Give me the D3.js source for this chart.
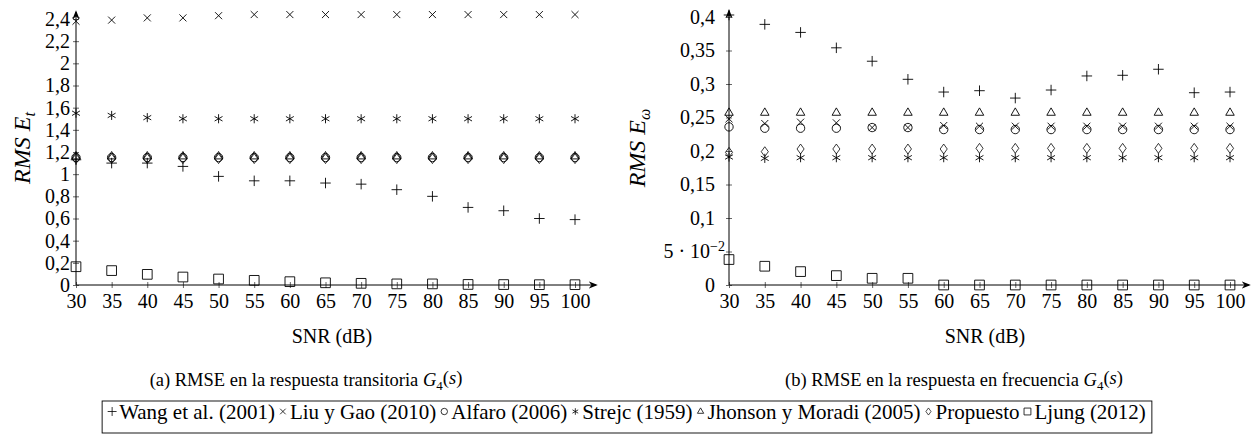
<!DOCTYPE html>
<html>
<head>
<meta charset="utf-8">
<script src="https://cdn.jsdelivr.net/npm/d3@7"></script>
<style>
  body { margin: 0; background: #fff; }
</style>
</head>
<body>
<svg id="chart" width="1255" height="447"></svg>
<script>
// SNR values (x axis)
const snr = [30, 35, 40, 45, 50, 55, 60, 65, 70, 75, 80, 85, 90, 95, 100];

// (a) RMSE in transient response
const transWang     = [1.13, 1.10, 1.10, 1.07, 0.98, 0.94, 0.94, 0.92, 0.91, 0.86, 0.80, 0.70, 0.67, 0.60, 0.59];
const transLiu      = [2.38, 2.39, 2.41, 2.41, 2.43, 2.44, 2.44, 2.44, 2.44, 2.44, 2.44, 2.44, 2.44, 2.44, 2.44];
const transAlfaro   = [1.15, 1.15, 1.15, 1.15, 1.15, 1.15, 1.15, 1.15, 1.15, 1.15, 1.15, 1.15, 1.15, 1.15, 1.15];
const transStrejc   = [1.55, 1.53, 1.51, 1.50, 1.50, 1.50, 1.50, 1.50, 1.50, 1.50, 1.50, 1.50, 1.50, 1.50, 1.50];
const transJhonson  = [1.16, 1.16, 1.16, 1.16, 1.16, 1.16, 1.16, 1.16, 1.16, 1.16, 1.16, 1.16, 1.16, 1.16, 1.16];
const transProp     = [1.14, 1.14, 1.14, 1.14, 1.14, 1.14, 1.14, 1.14, 1.14, 1.14, 1.14, 1.14, 1.14, 1.14, 1.14];
const transLjung    = [0.165, 0.13, 0.096, 0.072, 0.054, 0.042, 0.03, 0.02, 0.015, 0.01, 0.01, 0.005, 0.004, 0.003, 0.003];

// (b) RMSE in frequency response
const freqWang      = [0.403, 0.389, 0.377, 0.354, 0.334, 0.307, 0.288, 0.290, 0.279, 0.291, 0.312, 0.313, 0.322, 0.287, 0.288];
const freqLiu       = [0.248, 0.241, 0.243, 0.242, 0.235, 0.235, 0.238, 0.237, 0.237, 0.237, 0.237, 0.237, 0.237, 0.237, 0.237];
const freqAlfaro    = [0.236, 0.234, 0.234, 0.234, 0.235, 0.235, 0.232, 0.232, 0.232, 0.232, 0.232, 0.232, 0.232, 0.232, 0.232];
const freqStrejc    = [0.191, 0.189, 0.190, 0.190, 0.190, 0.190, 0.190, 0.190, 0.190, 0.190, 0.190, 0.190, 0.190, 0.190, 0.190];
const freqJhonson   = [0.257, 0.257, 0.257, 0.257, 0.257, 0.257, 0.257, 0.257, 0.257, 0.257, 0.257, 0.257, 0.257, 0.257, 0.257];
const freqProp      = [0.198, 0.199, 0.203, 0.203, 0.203, 0.203, 0.203, 0.204, 0.204, 0.204, 0.204, 0.204, 0.204, 0.204, 0.204];
const freqLjung     = [0.038, 0.028, 0.020, 0.014, 0.010, 0.010, 0, 0, 0, 0, 0, 0, 0, 0, 0];

// tick values and labels
const transTicks  = [0, 0.2, 0.4, 0.6, 0.8, 1, 1.2, 1.4, 1.6, 1.8, 2, 2.2, 2.4];
const transLabels = ["0", "0,2", "0,4", "0,6", "0,8", "1", "1,2", "1,4", "1,6", "1,8", "2", "2,2", "2,4"];
const freqTicks   = [0, 0.05, 0.1, 0.15, 0.2, 0.25, 0.3, 0.35, 0.4];
const freqLabels  = ["0", "5·10^−2", "0,1", "0,15", "0,2", "0,25", "0,3", "0,35", "0,4"];

const seriesNames = ["Wang et al. (2001)", "Liu y Gao (2010)", "Alfaro (2006)", "Strejc (1959)",
                     "Jhonson y Moradi (2005)", "Propuesto", "Ljung (2012)"];

const FONT = '"Liberation Serif", "Times New Roman", serif';

// marker definitions: d3 stroke symbols
const markers = [
  { type: d3.symbolPlus,      size: 38,  sx: 1 },
  { type: d3.symbolX,         size: 34,  sx: 1 },
  { type: d3.symbolCircle,    size: 55,  sx: 1 },
  { type: d3.symbolAsterisk,  size: 58,  sx: 1 },
  { type: d3.symbolTriangle2, size: 52,  sx: 1 },
  { type: d3.symbolDiamond2,  size: 62,  sx: 0.72 },
  { type: d3.symbolSquare2,   size: 120, sx: 1 }
];

const svg = d3.select("#chart");

svg.append("defs").append("marker")
  .attr("id", "arrow")
  .attr("viewBox", "0 0 10 10")
  .attr("refX", 8).attr("refY", 5)
  .attr("markerWidth", 9).attr("markerHeight", 9)
  .attr("markerUnits", "userSpaceOnUse")
  .attr("orient", "auto")
  .append("path")
    .attr("d", "M0,1 L10,5 L0,9 L3,5 Z")
    .attr("fill", "#000");

function drawPanel(opts) {
  const x = d3.scaleLinear().domain([30, 100]).range([opts.x0, opts.x1]);
  const y = d3.scaleLinear().domain([0, opts.ymax]).range([285, opts.ytop]);
  const g = svg.append("g").style("font-family", FONT);

  // x axis
  const xAxis = d3.axisBottom(x).tickValues(snr).tickSize(3).tickPadding(5)
    .tickFormat(d3.format("d"));
  const gx = g.append("g").attr("transform", "translate(0," + y(0) + ")").call(xAxis)
    .attr("font-family", null).attr("font-size", null);
  gx.select(".domain").remove();
  gx.selectAll(".tick line").attr("y1", -3).attr("y2", 3).attr("stroke", "#666");
  gx.selectAll(".tick text")
    .style("font-family", FONT).style("font-size", "20px")
    .attr("dy", "0.71em").attr("y", 9);

  // y axis
  const yAxis = d3.axisLeft(y).tickValues(opts.ticks).tickSize(3).tickPadding(opts.pad)
    .tickFormat((d, i) => opts.labels[i]);
  const gy = g.append("g").attr("transform", "translate(" + x(30) + ",0)").call(yAxis)
    .attr("font-family", null).attr("font-size", null);
  gy.select(".domain").remove();
  gy.selectAll(".tick line").attr("x1", -3).attr("x2", 3).attr("stroke", "#666");
  gy.selectAll(".tick text")
    .style("font-family", FONT).style("font-size", "20px").attr("dy", "0.32em");
  gy.selectAll(".tick text").each(function(d, i) {
    const lab = opts.labels[i];
    if (lab.indexOf("^") >= 0) {
      const parts = lab.split("^");
      const t = d3.select(this).text(null).attr("x", -4);
      t.append("tspan").text(parts[0].replace("·", " · "));
      t.append("tspan").attr("dy", "-0.5em").style("font-size", "14px").text(parts[1]);
    }
  });

  // axis lines with arrows
  g.append("line")
    .attr("x1", x(30)).attr("x2", opts.xEnd)
    .attr("y1", y(0)).attr("y2", y(0))
    .attr("stroke", "#000").attr("stroke-width", 1)
    .attr("marker-end", "url(#arrow)");
  g.append("line")
    .attr("x1", x(30)).attr("x2", x(30))
    .attr("y1", y(0)).attr("y2", opts.yEnd)
    .attr("stroke", "#000").attr("stroke-width", 1)
    .attr("marker-end", "url(#arrow)");

  // marks
  opts.series.forEach(function(vals, k) {
    const m = markers[k];
    const sym = d3.symbol().type(m.type).size(m.size);
    g.append("g").selectAll("path")
      .data(vals)
      .enter().append("path")
        .attr("d", sym)
        .attr("transform", (d, i) => "translate(" + x(snr[i]) + "," + y(d) + ") scale(" + m.sx + ",1)")
        .attr("fill", "none")
        .attr("stroke", "#000")
        .attr("stroke-width", 0.9);
  });

  // x axis title
  g.append("text")
    .attr("x", (opts.x0 + opts.xEnd) / 2 - 4).attr("y", 343)
    .attr("text-anchor", "middle")
    .style("font-family", FONT).style("font-size", "20px")
    .text("SNR (dB)");

  // y axis title
  const yt = g.append("text")
    .attr("transform", "translate(" + opts.ylabX + ",148) rotate(-90)")
    .attr("text-anchor", "middle")
    .style("font-family", FONT).style("font-size", "24px")
    .style("font-style", "italic");
  yt.append("tspan").text("RMS E");
  yt.append("tspan").attr("dy", "0.3em").style("font-size", "16px").text(opts.sub);

  // caption
  const cap = g.append("text")
    .attr("x", opts.capX).attr("y", 386)
    .attr("text-anchor", "middle")
    .style("font-family", FONT).style("font-size", "18.5px");
  cap.append("tspan").text(opts.caption + " ");
  cap.append("tspan").style("font-style", "italic").text("G");
  cap.append("tspan").attr("dy", "0.3em").style("font-size", "13px").text("4");
  cap.append("tspan").attr("dy", "-0.3em").text("(");
  cap.append("tspan").style("font-style", "italic").text("s");
  cap.append("tspan").text(")");
}

drawPanel({
  x0: 76, x1: 575, xEnd: 596, ytop: 19, yEnd: 12, ymax: 2.4,
  ticks: transTicks, labels: transLabels, pad: 3,
  series: [transWang, transLiu, transAlfaro, transStrejc, transJhonson, transProp, transLjung],
  ylabX: 30, sub: "t", capX: 306,
  caption: "(a)  RMSE en la respuesta transitoria"
});

drawPanel({
  x0: 729, x1: 1230, xEnd: 1249, ytop: 17, yEnd: 11, ymax: 0.4,
  ticks: freqTicks, labels: freqLabels, pad: 11,
  series: [freqWang, freqLiu, freqAlfaro, freqStrejc, freqJhonson, freqProp, freqLjung],
  ylabX: 645, sub: "ω", capX: 954,
  caption: "(b)  RMSE en la respuesta en frecuencia"
});

// legend
const legend = svg.append("g").style("font-family", FONT);
const legendMarkers = [
  { type: d3.symbolPlus,      size: 28,  sx: 1 },
  { type: d3.symbolX,         size: 22,  sx: 1 },
  { type: d3.symbolCircle,    size: 32,  sx: 1 },
  { type: d3.symbolAsterisk,  size: 30,  sx: 1 },
  { type: d3.symbolTriangle2, size: 28,  sx: 1 },
  { type: d3.symbolDiamond2,  size: 32,  sx: 0.72 },
  { type: d3.symbolSquare2,   size: 60,  sx: 1 }
];
let cx = 0;
const items = legend.append("g");
seriesNames.forEach(function(name, k) {
  const m = legendMarkers[k];
  items.append("path")
    .attr("d", d3.symbol().type(m.type).size(m.size))
    .attr("transform", "translate(" + (cx + 4) + ",411.5) scale(" + m.sx + ",1)")
    .attr("fill", "none").attr("stroke", "#000").attr("stroke-width", 0.8);
  const t = items.append("text")
    .attr("x", cx + 11).attr("y", 418.5)
    .style("font-family", FONT).style("font-size", "21px")
    .text(name);
  cx += 11 + t.node().getComputedTextLength() + 4;
});
const totalW = cx - 4;
const left = 627 - totalW / 2;
items.attr("transform", "translate(" + left + ",0)");
legend.insert("rect", ":first-child")
  .attr("x", left - 6).attr("y", 401)
  .attr("width", totalW + 12).attr("height", 32)
  .attr("fill", "none").attr("stroke", "#000").attr("stroke-width", 0.9);
</script>
</body>
</html>
